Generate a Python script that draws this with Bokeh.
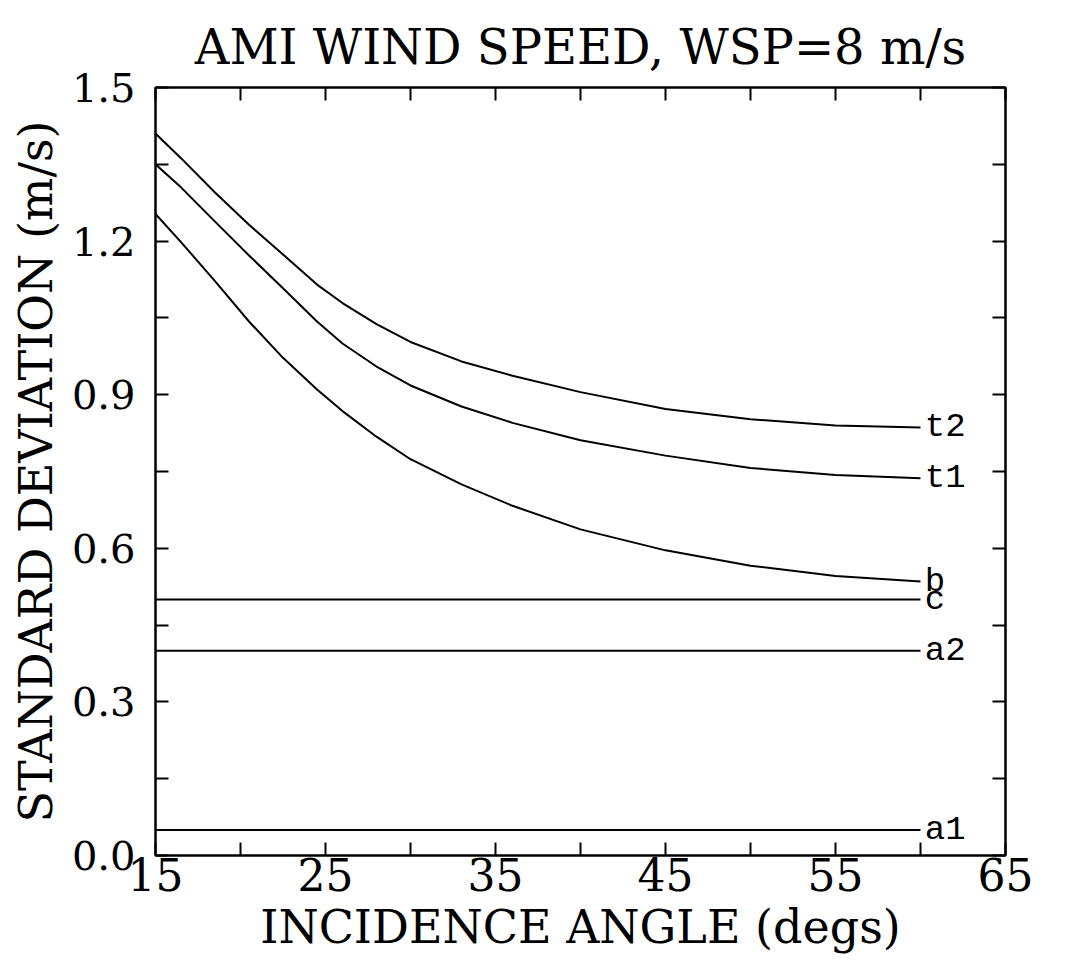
from bokeh.plotting import figure
from bokeh.models import (LinearAxis, FixedTicker, PrintfTickFormatter, Range1d,
                          Title, ColumnDataSource)
from bokeh.core.properties import value
from bokeh.embed import file_html
from bokeh.resources import INLINE

# ---- data ----
angles = [15, 16.5, 18.5, 20.5, 22.5, 24.5, 26, 28, 30, 33, 36, 40, 45, 50, 55, 60]
t2 = [1.410, 1.362, 1.295, 1.232, 1.174, 1.115, 1.079, 1.038, 1.003, 0.965, 0.937, 0.905, 0.872, 0.852, 0.840, 0.836]
t1 = [1.350, 1.305, 1.238, 1.172, 1.108, 1.043, 1.000, 0.955, 0.918, 0.877, 0.845, 0.811, 0.781, 0.757, 0.743, 0.737]
b = [1.253, 1.198, 1.122, 1.043, 0.972, 0.910, 0.868, 0.818, 0.774, 0.725, 0.683, 0.637, 0.596, 0.566, 0.546, 0.535]
flat_angles = [15, 60]
c = [0.500, 0.500]
a2 = [0.400, 0.400]
a1 = [0.050, 0.050]
series_names = ["t2", "t1", "b", "c", "a2", "a1"]

x_major = [15, 25, 35, 45, 55, 65]
x_minor = [20, 30, 40, 50, 60]
y_major = [0.0, 0.3, 0.6, 0.9, 1.2, 1.5]
y_minor = [0.15, 0.45, 0.75, 1.05, 1.35]

TITLE = "AMI WIND SPEED, WSP=8 m/s"
XLABEL = "INCIDENCE ANGLE (degs)"
YLABEL = "STANDARD DEVIATION (m/s)"

SERIF = "DejaVu Serif"
MONO = "Liberation Mono"

p = figure(width=1075, height=972, x_range=Range1d(15, 65), y_range=Range1d(0, 1.5),
           output_backend="svg", toolbar_location=None,
           min_border_left=155, min_border_right=70, min_border_top=87, min_border_bottom=117,
           background_fill_color="white", border_fill_color="white")
p.grid.visible = False
p.outline_line_color = "black"
p.outline_line_width = 2

xt = FixedTicker(ticks=x_major, minor_ticks=x_minor)
yt = FixedTicker(ticks=y_major, minor_ticks=y_minor)

def style_axis(ax, ticker, show_labels):
    ax.ticker = ticker
    ax.axis_line_color = "black"
    ax.axis_line_width = 2
    ax.major_tick_in = 13
    ax.major_tick_out = 0
    ax.minor_tick_in = 13
    ax.minor_tick_out = 0
    ax.major_tick_line_width = 2
    ax.minor_tick_line_width = 2
    ax.major_tick_line_color = "black"
    ax.minor_tick_line_color = "black"
    ax.major_label_text_color = "black"
    ax.axis_label_text_color = "black"
    if not show_labels:
        ax.major_label_text_font_size = "0px"
        ax.major_label_text_alpha = 0

xa = p.xaxis[0]
ya = p.yaxis[0]
style_axis(xa, xt, True)
style_axis(ya, yt, True)
xa.major_label_text_font = SERIF
xa.major_label_text_font_size = "44px"
xa.major_label_standoff = 2
xa.axis_label = XLABEL
xa.axis_label_text_font = SERIF
xa.axis_label_text_font_size = "46px"
xa.axis_label_text_font_style = "normal"
xa.axis_label_standoff = 6

ya.formatter = PrintfTickFormatter(format="%.1f")
ya.major_label_text_font = SERIF
ya.major_label_text_font_size = "40px"
ya.major_label_standoff = 20
ya.axis_label = YLABEL
ya.axis_label_text_font = SERIF
ya.axis_label_text_font_size = "46px"
ya.axis_label_text_font_style = "normal"
ya.axis_label_standoff = 6

top = LinearAxis()
style_axis(top, FixedTicker(ticks=x_major, minor_ticks=x_minor), False)
right = LinearAxis()
style_axis(right, FixedTicker(ticks=y_major, minor_ticks=y_minor), False)
p.add_layout(top, "above")
p.add_layout(right, "right")

p.add_layout(Title(text=TITLE, align="center", text_font=SERIF, text_font_size="48px",
                   text_font_style="normal", text_color="black", standoff=26), "above")

for ys in (t2, t1, b):
    p.line(angles, ys, line_color="black", line_width=2, line_join="round")
for ys in (c, a2, a1):
    p.line(flat_angles, ys, line_color="black", line_width=2)

ends_x = [angles[-1], angles[-1], angles[-1], flat_angles[-1], flat_angles[-1], flat_angles[-1]]
ends_y = [t2[-1], t1[-1], b[-1], c[-1], a2[-1], a1[-1]]
lab = ColumnDataSource(dict(x=[v + 0.25 for v in ends_x], y=ends_y, text=series_names))
p.text(x="x", y="y", text="text", source=lab, text_font=value(MONO), text_font_size="34px",
       text_align="left", text_baseline="middle", text_color="black")

open("out.html", "w").write(file_html(p, INLINE))
